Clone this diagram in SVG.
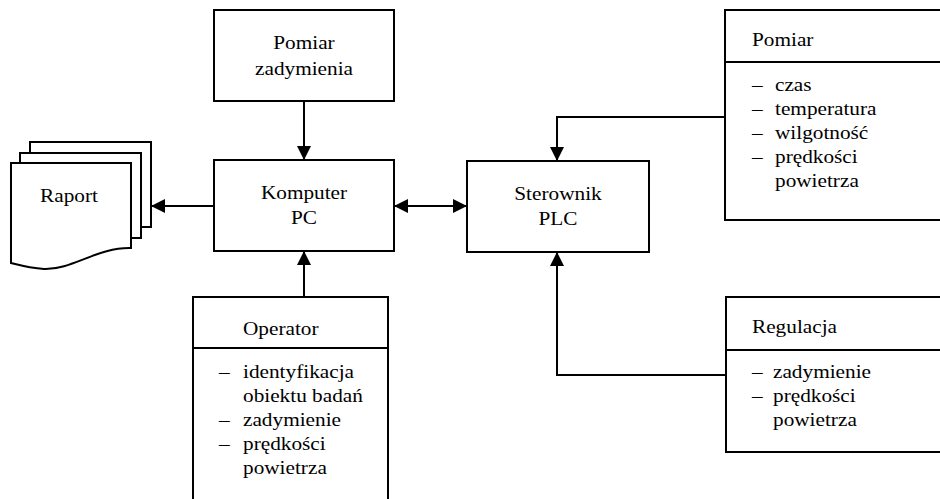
<svg xmlns="http://www.w3.org/2000/svg" width="940" height="499" viewBox="0 0 940 499" font-family="Liberation Serif, Times New Roman, serif" font-size="18.5">
<defs>
<style>
.box{fill:#fff;stroke:#000;stroke-width:2}
.ln{fill:none;stroke:#000;stroke-width:2}
.c{text-anchor:middle}
</style>
<marker id="ah" viewBox="0 0 14 14" refX="14" refY="7" markerWidth="14" markerHeight="14" markerUnits="userSpaceOnUse" orient="auto-start-reverse">
<path d="M0,0 L14,7 L0,14 Z" fill="#000"/>
</marker>
</defs>
<rect width="940" height="499" fill="#fff"/>

<g id="raport">
<rect class="box" x="30" y="142" width="121" height="85"/>
<rect class="box" x="20" y="153" width="121" height="85"/>
<path class="box" d="M11,163 H131 V248 C98,247 72,270 44,269 C30,268 19,265 11,263 Z"/>
<g transform="translate(69,0) scale(1.15,1)"><text class="c" x="0" y="202">Raport</text></g>
</g>

<g id="pomiar-zadymienia">
<rect class="box" x="214" y="10" width="180" height="91"/>
<g transform="translate(304,0) scale(1.15,1)"><text class="c" x="0" y="49">Pomiar</text><text class="c" x="0" y="75">zadymienia</text></g>
</g>

<g id="komputer">
<rect class="box" x="214" y="160" width="180" height="91"/>
<g transform="translate(304,0) scale(1.15,1)"><text class="c" x="0" y="199">Komputer</text><text class="c" x="0" y="224">PC</text></g>
</g>

<g id="sterownik">
<rect class="box" x="467" y="161" width="182" height="91"/>
<g transform="translate(558,0) scale(1.15,1)"><text class="c" x="0" y="200">Sterownik</text><text class="c" x="0" y="225">PLC</text></g>
</g>

<g id="pomiar">
<rect class="box" x="725" y="10" width="240" height="210"/>
<line class="ln" x1="725" y1="62" x2="940" y2="62"/>
<g transform="translate(752,0) scale(1.15,1)"><text x="0" y="46">Pomiar</text>
<text x="0" y="91">–</text><text x="0" y="115">–</text><text x="0" y="139">–</text><text x="0" y="163">–</text></g>
<g transform="translate(775,0) scale(1.15,1)">
<text x="0" y="91">czas</text><text x="0" y="115">temperatura</text><text x="0" y="139">wilgotność</text><text x="0" y="163">prędkości</text><text x="0" y="187">powietrza</text></g>
</g>

<g id="regulacja">
<rect class="box" x="726" y="297" width="240" height="155"/>
<line class="ln" x1="726" y1="350" x2="940" y2="350"/>
<g transform="translate(752,0) scale(1.15,1)"><text x="0" y="333">Regulacja</text>
<text x="0" y="378">–</text><text x="0" y="402">–</text></g>
<g transform="translate(773,0) scale(1.15,1)">
<text x="0" y="378">zadymienie</text><text x="0" y="402">prędkości</text><text x="0" y="426">powietrza</text></g>
</g>

<g id="operator">
<rect class="box" x="193" y="297" width="195" height="230"/>
<line class="ln" x1="193" y1="348" x2="388" y2="348"/>
<g transform="translate(219,0) scale(1.15,1)"><text x="0" y="378">–</text><text x="0" y="426">–</text><text x="0" y="450">–</text></g>
<g transform="translate(243,0) scale(1.15,1)"><text x="0" y="335">Operator</text>
<text x="0" y="378">identyfikacja</text><text x="0" y="402">obiektu badań</text><text x="0" y="426">zadymienie</text><text x="0" y="450">prędkości</text><text x="0" y="474">powietrza</text></g>
</g>

<g id="connectors">
<line class="ln" x1="304" y1="101" x2="304" y2="160" marker-end="url(#ah)"/>
<line class="ln" x1="214" y1="206" x2="151" y2="206" marker-end="url(#ah)"/>
<line class="ln" x1="394" y1="206" x2="467" y2="206" marker-start="url(#ah)" marker-end="url(#ah)"/>
<line class="ln" x1="304" y1="297" x2="304" y2="251" marker-end="url(#ah)"/>
<polyline class="ln" points="725,117 557,117 557,161" marker-end="url(#ah)"/>
<polyline class="ln" points="726,375 557,375 557,252" marker-end="url(#ah)"/>
</g>
</svg>
